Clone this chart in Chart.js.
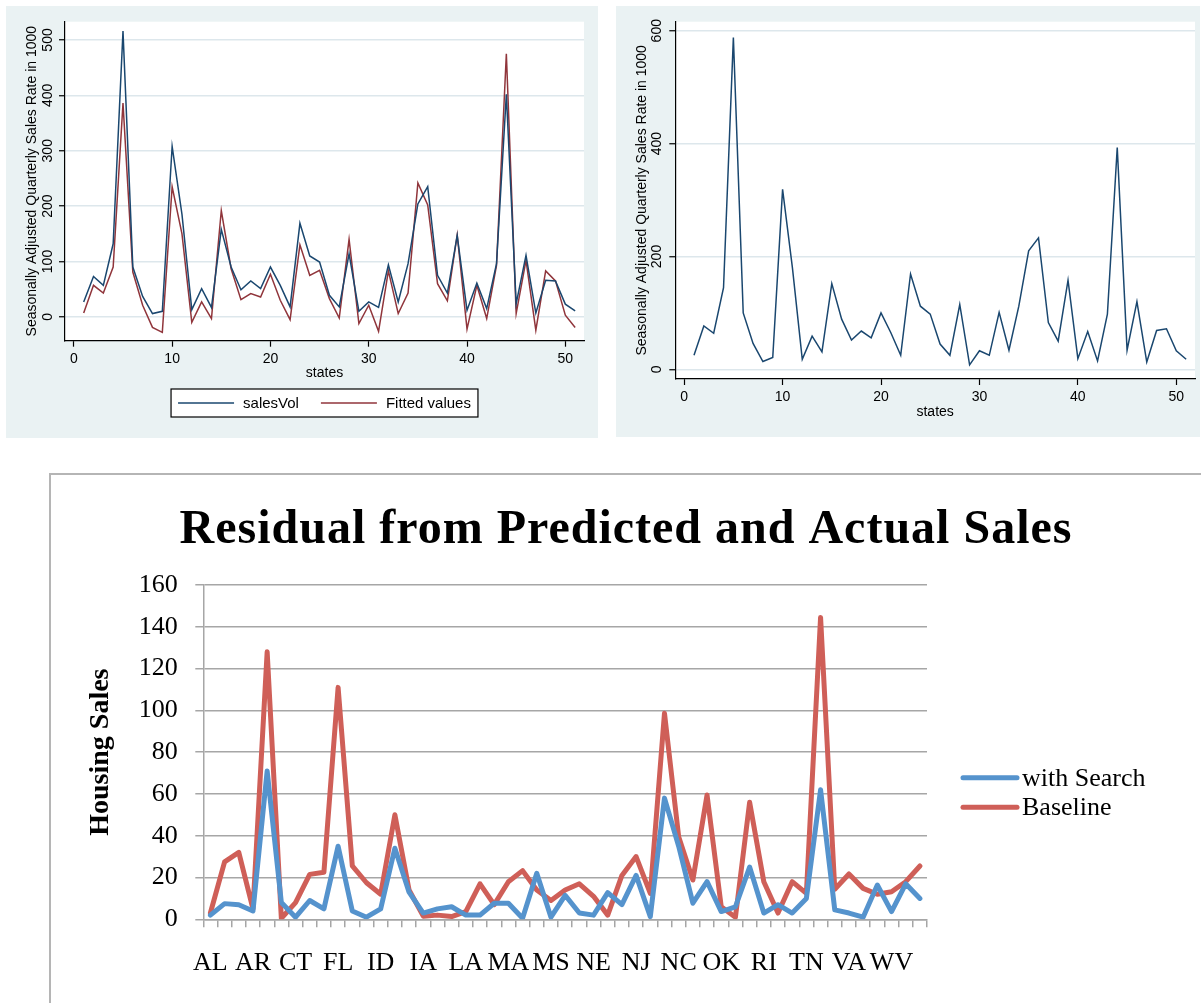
<!DOCTYPE html>
<html>
<head>
<meta charset="utf-8">
<script src="https://cdn.jsdelivr.net/npm/chart.js@4"></script>
<style>
  html, body { margin: 0; padding: 0; background: #fff; width: 1201px; height: 1003px; overflow: hidden; }
  .panel { position: absolute; background: #eaf2f3; }
  #p1 { left: 6px; top: 6px; width: 592px; height: 432px; }
  #p2 { left: 616px; top: 6px; width: 584px; height: 431px; }
  #box { position: absolute; left: 49px; top: 473px; width: 1170px; height: 560px; border: 2px solid #b5b5b5; box-sizing: border-box; }
  #c3 { position: absolute; left: 51px; top: 475px; }
  canvas { display: block; }
</style>
</head>
<body>
<div class="panel" id="p1"><canvas id="c1" width="592" height="432"></canvas></div>
<div class="panel" id="p2"><canvas id="c2" width="584" height="431"></canvas></div>
<div id="box"></div>
<canvas id="c3" width="1150" height="528"></canvas>
<script>
// top charts: state number 1..51
const salesVol = [27, 73, 57, 132, 516, 90, 37, 6, 10, 308, 185, 13, 51, 17, 158, 90, 49, 65, 51, 90,
    57, 18, 169, 110, 99, 39, 18, 114, 10, 27, 17, 94, 27, 96, 204, 235, 75, 43, 147, 12,
    61, 15, 96, 402, 24, 111, 7, 66, 65, 23, 11];
const fittedValues = [7, 57, 43, 90, 386, 81, 21, -19, -28, 235, 150, -10, 27, -3, 192, 87, 31, 42, 36, 77,
    30, -5, 130, 75, 84, 33, -2, 140, -12, 21, -26, 83, 6, 43, 242, 202, 60, 29, 148, -22,
    57, -3, 93, 475, 6, 102, -24, 83, 65, 3, -19];
const salesVolRaw = [25, 77, 64, 145, 588, 100, 46, 14, 21, 319, 180, 18, 59, 31, 152, 89, 52, 68, 56, 100,
    65, 25, 169, 112, 98, 45, 25, 115, 8, 33, 25, 101, 34, 112, 210, 233, 83, 50, 158, 19,
    67, 15, 98, 393, 34, 120, 13, 69, 72, 33, 18];
const xTicks = [0, 10, 20, 30, 40, 50];
const yTicksLeft = [0, 100, 200, 300, 400, 500];
const yTicksRight = [0, 200, 400, 600];

// bottom chart
const states = ['AL', 'AK', 'AZ', 'AR', 'CA', 'CO', 'CT', 'DE', 'DC', 'FL', 'GA', 'HI', 'ID', 'IL', 'IN', 'IA',
    'KS', 'KY', 'LA', 'ME', 'MD', 'MA', 'MI', 'MN', 'MS', 'MO', 'MT', 'NE', 'NV', 'NH', 'NJ', 'NM', 'NY',
    'NC', 'ND', 'OH', 'OK', 'OR', 'PA', 'RI', 'SC', 'SD', 'TN', 'TX', 'UT', 'VA', 'VT', 'WA', 'WV', 'WI', 'WY'];
const withSearch = [2, 7.5, 7, 4, 71, 8, 1, 9, 5, 35, 4, 1, 5, 34, 13, 3, 5, 6, 2, 2,
    7.7, 7.7, 0.5, 22, 1, 11.5, 3, 2, 12.8, 7, 21, 1.3, 58, 35, 7.7, 18, 3.7, 6, 25, 3,
    7, 3, 10, 62, 4.5, 3, 1, 16.4, 3.7, 17, 10];
const baseline = [3, 27.5, 32, 5, 128, 0.5, 8, 21.5, 22.5, 111, 25.6, 17.5, 12, 50, 14, 1.5, 2, 1.3, 3.7, 17,
    7, 18, 23.3, 14, 9, 14, 17, 11, 2, 21, 30, 12.4, 98.6, 39.5, 18.8, 59.5, 6, 1, 56, 18,
    3, 18, 12.4, 144.5, 14.4, 21.7, 14.8, 12, 13.2, 18, 25.5];

const STATA_BLUE = '#1a476f', STATA_RED = '#90353b';
const SANS = 'Liberation Sans', SERIF = 'Liberation Serif';

function pts(arr) { return arr.map((v, i) => ({ x: i + 1, y: v })); }

const plotBg = {
    id: 'plotBg',
    beforeDraw(chart) {
        const a = chart.chartArea, ctx = chart.ctx;
        ctx.save();
        ctx.fillStyle = '#fff';
        ctx.fillRect(a.left, a.top, a.right - a.left, a.bottom - a.top);
        ctx.restore();
    }
};

// boxed legend under the plot, Stata style
const boxLegend = {
    id: 'boxLegend',
    afterDraw(chart, args, opts) {
        if (!opts.show) return;
        const ctx = chart.ctx, a = chart.chartArea;
        ctx.save();
        ctx.font = '15px "' + SANS + '"';
        const pad = 7, line = 56, gap = 9, itemGap = 22;
        const ds = chart.data.datasets;
        let w = pad * 2;
        ds.forEach((d, i) => { w += line + gap + ctx.measureText(d.label).width + (i ? itemGap : 0); });
        const h = 28, x0 = (a.left + a.right) / 2 - w / 2, y0 = opts.top;
        ctx.fillStyle = '#fff';
        ctx.fillRect(x0, y0, w, h);
        ctx.strokeStyle = '#000';
        ctx.lineWidth = 1.2;
        ctx.strokeRect(x0, y0, w, h);
        let x = x0 + pad;
        const cy = y0 + h / 2;
        ds.forEach((d, i) => {
            if (i) x += itemGap;
            ctx.strokeStyle = d.borderColor;
            ctx.lineWidth = 1.5;
            ctx.beginPath(); ctx.moveTo(x, cy); ctx.lineTo(x + line, cy); ctx.stroke();
            x += line + gap;
            ctx.fillStyle = '#000';
            ctx.textBaseline = 'middle';
            ctx.fillText(d.label, x, cy + 1);
            x += ctx.measureText(d.label).width;
        });
        ctx.restore();
    }
};

function stataConfig(datasets, yMin, yMax, yTicks, o) {
    return {
        type: 'line',
        data: { datasets: datasets },
        options: {
            responsive: false,
            animation: false,
            layout: { padding: { left: 0, top: 15.7, right: o.right, bottom: o.bottom } },
            plugins: {
                legend: { display: false },
                tooltip: { enabled: false },
                boxLegend: { show: o.legend, top: o.legendTop }
            },
            elements: { point: { radius: 0 }, line: { tension: 0, borderWidth: 1.5 } },
            scales: {
                x: {
                    type: 'linear', min: -0.9, max: 51.9,
                    afterBuildTicks: s => { s.ticks = xTicks.map(v => ({ value: v })); },
                    afterFit: s => { s.height = 45; },
                    grid: { drawOnChartArea: false, drawTicks: true, tickLength: 6, tickColor: '#000', tickWidth: 1.2 },
                    border: { color: '#000', width: 1.2 },
                    ticks: { color: '#000', font: { family: SANS, size: 14 }, padding: 4, maxRotation: 0 },
                    title: { display: true, text: 'states', color: '#000', font: { family: SANS, size: 14 }, padding: { top: 0, bottom: o.xTitlePad } }
                },
                y: {
                    min: yMin, max: yMax,
                    afterBuildTicks: s => { s.ticks = yTicks.map(v => ({ value: v })); },
                    afterFit: s => { s.width = o.yWidth; },
                    grid: { color: '#dde7ec', lineWidth: 1.5, tickLength: 6, tickColor: '#000', tickWidth: 1.2 },
                    border: { color: '#000', width: 1.2 },
                    ticks: { color: '#000', font: { family: SANS, size: 14 }, minRotation: 90, maxRotation: 90, crossAlign: 'center', padding: o.yTickPad },
                    title: { display: true, text: 'Seasonally Adjusted Quarterly Sales Rate in 1000', color: '#000', font: { family: SANS, size: 14 }, padding: { top: 17.3, bottom: 0 } }
                }
            }
        },
        plugins: [plotBg, boxLegend]
    };
}

new Chart(document.getElementById('c1'), stataConfig([
    { label: 'salesVol', data: pts(salesVol), borderColor: STATA_BLUE },
    { label: 'Fitted values', data: pts(fittedValues), borderColor: STATA_RED }
], -43, 533, yTicksLeft, { right: 14, bottom: 52.3, yWidth: 59, yTickPad: -1, xTitlePad: 4.6, legend: true, legendTop: 383 }));

new Chart(document.getElementById('c2'), stataConfig([
    { label: 'salesVol', data: pts(salesVolRaw), borderColor: STATA_BLUE }
], -17, 616, yTicksRight, { right: 5, bottom: 13, yWidth: 59.3, yTickPad: 0, xTitlePad: 3.9, legend: false }));

// Excel style title centred on the whole canvas and legend on the right
const excelDecor = {
    id: 'excelDecor',
    afterDraw(chart, args, opts) {
        const ctx = chart.ctx, a = chart.chartArea;
        ctx.save();
        ctx.fillStyle = '#000';
        ctx.font = 'bold 48px "' + SERIF + '"';
        ctx.letterSpacing = '1px';
        ctx.textAlign = 'center';
        ctx.textBaseline = 'alphabetic';
        ctx.fillText(opts.title, chart.width / 2, 68);
        ctx.letterSpacing = '0px';

        const x0 = a.right + 36, ys = [302.7, 332.3];
        ctx.font = '26px "' + SERIF + '"';
        ctx.textAlign = 'left';
        ctx.textBaseline = 'middle';
        chart.data.datasets.forEach((d, i) => {
            ctx.strokeStyle = d.borderColor;
            ctx.lineWidth = 5;
            ctx.lineCap = 'round';
            ctx.beginPath(); ctx.moveTo(x0, ys[i]); ctx.lineTo(x0 + 54, ys[i]); ctx.stroke();
            ctx.fillText(d.label, x0 + 59, ys[i] + 1);
        });
        ctx.restore();
    }
};

new Chart(document.getElementById('c3'), {
    type: 'line',
    data: {
        labels: states,
        datasets: [
            { label: 'with Search', data: withSearch, borderColor: '#5593cd' },
            { label: 'Baseline', data: baseline, borderColor: '#cf5f58' }
        ]
    },
    options: {
        responsive: false,
        animation: false,
        layout: { padding: { left: 0, top: 110, right: 274, bottom: 23.7 } },
        elements: {
            point: { radius: 0 },
            line: { tension: 0, borderWidth: 5, borderJoinStyle: 'round', borderCapStyle: 'round' }
        },
        plugins: {
            legend: { display: false },
            tooltip: { enabled: false },
            excelDecor: { title: 'Residual from Predicted and Actual Sales' }
        },
        scales: {
            x: {
                offset: true,
                afterFit: s => { s.height = 60; },
                grid: { offset: true, drawOnChartArea: false, drawTicks: true, tickLength: 8, color: '#a6a6a6', lineWidth: 1.5 },
                border: { color: '#a6a6a6', width: 1.5 },
                ticks: {
                    autoSkip: false, maxRotation: 0, minRotation: 0, padding: 20, color: '#000',
                    font: { family: SERIF, size: 26 },
                    callback: (v, i) => (i % 3 === 0 ? states[i] : '')
                }
            },
            y: {
                min: 0, max: 160,
                afterFit: s => { s.width = 152.3; },
                grid: { color: '#a6a6a6', lineWidth: 1.5, tickLength: 8 },
                border: { color: '#a6a6a6', width: 1.5 },
                ticks: { stepSize: 20, padding: 17.6, color: '#000', font: { family: SERIF, size: 26 } },
                title: {
                    display: true, text: 'Housing Sales', color: '#000',
                    font: { family: SERIF, size: 28, weight: 'bold' }, padding: { top: 33, bottom: 0 }
                }
            }
        }
    },
    plugins: [excelDecor]
});
</script>
</body>
</html>
